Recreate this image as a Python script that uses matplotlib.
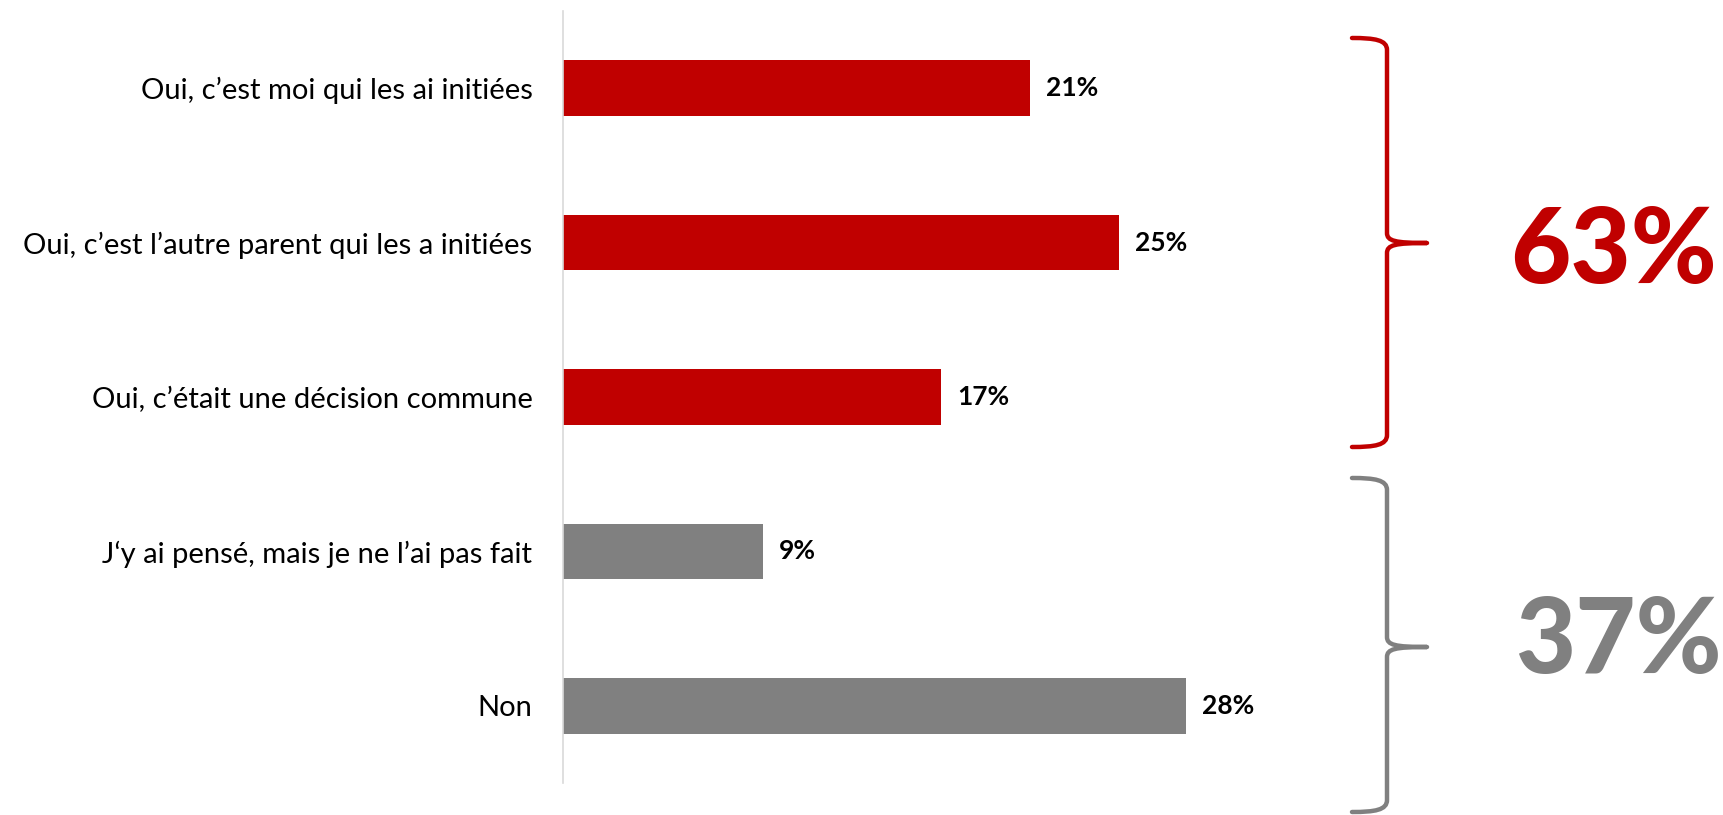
import matplotlib
matplotlib.use("Agg")
import matplotlib.pyplot as plt
from matplotlib.path import Path
from matplotlib.patches import PathPatch

categories = [
    "Oui, c\u2019est moi qui les ai initiées",
    "Oui, c\u2019est l\u2019autre parent qui les a initiées",
    "Oui, c\u2019était une décision commune",
    "J\u2018y ai pensé, mais je ne l\u2019ai pas fait",
    "Non",
]
values = [21, 25, 17, 9, 28]
groups = ["oui", "oui", "oui", "non", "non"]
totals = {"oui": "63%", "non": "37%"}

RED = "#C00000"
GREY = "#808080"
colors = [RED if g == "oui" else GREY for g in groups]

plt.rcParams["font.family"] = ["Lato", "DejaVu Sans"]

W, H = 1724, 815
fig = plt.figure(figsize=(W / 100, H / 100), dpi=100)

# main bar axes (pixel layout)
ax = fig.add_axes([563 / W, (H - 783) / H, 1161 / W, 772 / H])
y = range(len(categories))
ax.barh(y, values, height=0.36, color=colors)
ax.set_xlim(0, 1161 / 22.25)
ax.set_ylim(len(categories) - 0.5, -0.5)
ax.set_yticks(list(y))
ax.set_yticklabels(categories, fontsize=21)
ax.tick_params(axis="y", length=0, pad=22)
ax.set_xticks([])
for s in ["top", "right", "bottom"]:
    ax.spines[s].set_visible(False)
ax.spines["left"].set_color("#D9D9D9")
ax.spines["left"].set_linewidth(1.2)

for i, v in enumerate(values):
    ax.text(v + 0.7, i, f"{v}%", va="center", ha="left",
            fontsize=19, fontweight="bold", color="black")

# overlay in pixel coordinates for braces and totals
ov = fig.add_axes([0, 0, 1, 1])
ov.set_xlim(0, W)
ov.set_ylim(H, 0)
ov.axis("off")


def brace(top, tip, bottom, color):
    xe, xv, xt = 1352, 1387, 1427
    verts = [
        (xe, top), (1375, top), (xv, top + 2), (xv, top + 12),
        (xv, tip - 10),
        (xv, tip - 2), (1395, tip), (xt, tip),
        (1395, tip), (xv, tip + 2), (xv, tip + 10),
        (xv, bottom - 12),
        (xv, bottom - 2), (1375, bottom), (xe, bottom),
    ]
    codes = [Path.MOVETO, Path.CURVE4, Path.CURVE4, Path.CURVE4,
             Path.LINETO,
             Path.CURVE4, Path.CURVE4, Path.CURVE4,
             Path.CURVE4, Path.CURVE4, Path.CURVE4,
             Path.LINETO,
             Path.CURVE4, Path.CURVE4, Path.CURVE4]
    ov.add_patch(PathPatch(Path(verts, codes), fill=False, edgecolor=color,
                           lw=3.2, capstyle="round", joinstyle="round"))


brace(38, 243, 447, RED)
brace(478, 647, 812, GREY)

ov.text(1614, 252, totals["oui"], ha="center", va="center",
        fontsize=75, fontweight="black", color=RED)
ov.text(1618, 642, totals["non"], ha="center", va="center",
        fontsize=75, fontweight="black", color=GREY)

fig.savefig("out.png", dpi=100, facecolor="white")
